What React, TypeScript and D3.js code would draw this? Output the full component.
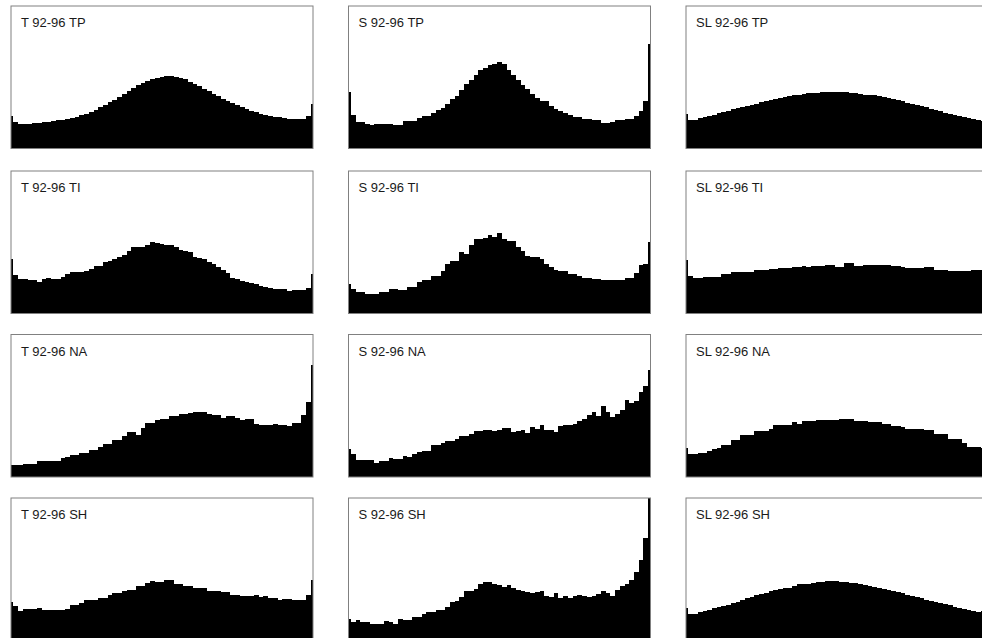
import React, { useRef, useEffect } from "react";
import * as d3 from "d3";

// panel labels
const series = ["T", "S", "SL"];
const regions = ["TP", "TI", "NA", "SH"];
const period = "92-96";

// bin heights, in % of the panel height (65 bins, end bins half shown)
const tTP = [23, 18.5, 17.5, 17.3, 17.5, 18, 18, 18.4, 18.6, 19, 19.8, 20.3, 21, 21.6, 22.3, 23.5, 24.5, 25.5, 27.3, 29, 30.5, 32.5, 34, 36, 38, 40.5, 42.5, 44.5, 46, 47.5, 48.7, 49.7, 50.3, 50.8, 50.8, 50.3, 49.5, 48.5, 47, 45.5, 44, 42, 40.5, 38.5, 36.8, 35, 33.5, 32, 30.5, 29, 27.8, 26.5, 25.5, 24.5, 23.5, 23, 22.3, 21.8, 21.3, 21, 20.7, 20.7, 21, 22.6, 31.5];
const sTP = [40, 23.8, 18.4, 18.4, 17.5, 16.3, 17.2, 17.2, 17.4, 17.2, 16.8, 16.8, 19, 19.2, 19.5, 21.4, 22.6, 22.8, 25, 27.3, 28.4, 31.5, 34.7, 36.6, 41.3, 45.5, 48.3, 51.7, 54.8, 56.4, 58.7, 59.4, 60.6, 59.4, 55.2, 51.7, 48.3, 44.8, 41.7, 38.2, 35.4, 33.1, 33.1, 29.6, 27.7, 26.6, 25, 23.3, 22.1, 22.1, 21, 21, 19.8, 19.8, 18, 18, 18.6, 19.8, 19.8, 20.7, 20.7, 22.6, 26.1, 33.1, 73.2];
const slTP = [24.5, 19.8, 20.2, 21.2, 22, 22.8, 23.8, 24.6, 25.5, 26.5, 27.4, 28.2, 29.2, 30, 30.8, 31.5, 32.5, 33.3, 34, 34.8, 35.5, 36.2, 36.8, 37.3, 37.8, 38.2, 38.6, 38.8, 39.2, 39.4, 39.6, 39.7, 39.7, 39.5, 39.3, 39, 38.6, 38.2, 37.8, 37.5, 37.8, 36.6, 35.8, 35.2, 34.6, 33.8, 33, 32.2, 31.3, 30.5, 29.6, 28.8, 27.8, 27, 26.2, 25.2, 24.4, 23.5, 22.8, 22, 21.2, 20.5, 19.8, 19.2, 19];

const tTI = [38.2, 27.1, 24.5, 24.5, 23.6, 23.6, 22.4, 24, 25.2, 24, 24.5, 25.7, 27.6, 29.2, 29.2, 28.8, 29.5, 31.1, 33.5, 33.5, 35.8, 36.5, 38.2, 40, 41, 44.1, 46.5, 46.5, 46.8, 48.3, 50.5, 49.5, 48.8, 48.1, 48.1, 46.9, 44.5, 44.1, 42.9, 39.4, 39, 38.2, 35.8, 34.5, 32.8, 30.4, 28.5, 25, 24, 22.8, 22.4, 21.5, 21, 19.3, 18.5, 18.2, 17, 17, 17, 15.8, 16.3, 16.3, 16.3, 18.2, 27.6];
const sTI = [21, 17, 15.3, 15.3, 14, 13.9, 13.9, 15.1, 15.1, 17, 17, 16.3, 16.3, 18.6, 18.6, 22.4, 23.3, 23.3, 26.4, 26.4, 30, 34.7, 37, 37, 42.9, 41.7, 48.3, 52.4, 52.4, 53.1, 55.4, 54, 56.4, 52.4, 50.7, 50.7, 46.9, 44.1, 40.6, 39.4, 39.4, 38.2, 34.7, 32.8, 30.4, 29.5, 29.5, 27.6, 27.6, 26.4, 24.8, 24.8, 24, 24, 23.6, 23.6, 23.6, 23.3, 23.3, 25.2, 25.2, 28.1, 34.2, 34.7, 50.5];
const slTI = [37.5, 26.4, 25.2, 25.2, 25.7, 25.7, 25.7, 25.7, 27.6, 27.6, 28.8, 28.8, 29.2, 29.2, 29.2, 30.4, 30.4, 30.4, 31.1, 31.1, 31.6, 31.6, 31.6, 32.8, 32.8, 33, 32.5, 33, 33.5, 33.5, 34, 34, 32.8, 32.8, 35.1, 35.1, 33.5, 33.5, 33.8, 34.2, 34.2, 34.2, 34, 34, 33, 33, 32.5, 32, 31.8, 31.8, 31.8, 32.3, 32.3, 30.7, 30.7, 30.7, 30, 30, 30, 29.5, 29.5, 30.4, 30.4, 30.4, 30.4];

const tNA = [8.6, 8.6, 8.6, 8.8, 9.2, 9.3, 11, 11, 11, 11.2, 11.5, 13.6, 13.8, 15.2, 15.2, 16.8, 16.8, 18.7, 18.7, 21, 23.4, 23.4, 25.7, 25.7, 28.5, 31.5, 31.5, 29.2, 34.6, 37.9, 37.9, 39.7, 40.9, 40.9, 42.5, 42.5, 43.9, 43.9, 44.9, 45.6, 45.6, 45.6, 44.4, 43.2, 43.2, 41.6, 42.5, 42.5, 41.6, 39.7, 40.9, 40.9, 37.4, 36.2, 36.2, 36.2, 37.4, 36.2, 36.2, 35.5, 37.9, 37.9, 43.7, 52.6, 78.7];
const sNA = [19.9, 16.4, 11.7, 11.7, 12.1, 11.7, 10, 11.2, 11.2, 13.6, 12.9, 12.9, 14.5, 14, 16.4, 17.5, 18.2, 18.2, 22.2, 22.2, 23.8, 25.2, 25.2, 26.9, 28.5, 28.5, 30.4, 32, 32, 32.7, 33.2, 32.2, 33.2, 34.3, 34.3, 31.5, 32.2, 32.7, 30.8, 35, 33.9, 36.2, 33.2, 32.7, 31.5, 35.5, 36.2, 36.2, 37.4, 39.3, 40.9, 43.2, 45.6, 42.5, 49.5, 45.6, 42.1, 43.9, 47.2, 53.7, 51.9, 53.3, 59.6, 63.6, 75.2];
const slNA = [20.6, 16.4, 16.4, 16.8, 16.8, 18, 19.5, 20.3, 22.7, 22.7, 25.7, 25.7, 29.2, 29.2, 29.2, 32.2, 32.2, 32.2, 33.9, 36.2, 36.2, 36.2, 36.2, 38.6, 37.4, 39.3, 39.3, 39.3, 40.2, 40.2, 40.2, 40.2, 39.7, 40.9, 40.9, 40.9, 39.3, 39.3, 39.3, 38.6, 38.6, 38.6, 36.9, 36.9, 35.5, 35.5, 35, 33.9, 33.9, 33.9, 33.9, 32.7, 32.7, 29.9, 29.9, 29.9, 26.9, 26.9, 26.9, 23.8, 21, 21, 21, 20.5, 20];

const tSH = [27.1, 24.1, 21, 22.2, 22.2, 22.2, 22.9, 21.7, 21.7, 21.7, 21.7, 21.7, 22.2, 25.2, 25.2, 26.4, 28.3, 28.3, 28.3, 29.9, 29.9, 32.2, 33.4, 33.4, 35, 35.7, 35.7, 38.1, 38.1, 40.4, 41.6, 40.9, 40.9, 42.8, 42.8, 40, 40, 38.1, 38.1, 36.9, 36.9, 36.9, 35, 35, 35, 33.9, 33.9, 32.2, 32.2, 31.5, 31.5, 31.5, 32.2, 30.6, 31.1, 29.9, 29.9, 28.3, 29.2, 29.2, 28.3, 28.3, 28.3, 32.2, 42.8];
const sSH = [15.2, 12.9, 14.3, 12.9, 12.9, 11.7, 11.9, 11.9, 13.6, 12.9, 11.9, 15.2, 14.7, 14.7, 16.6, 16.6, 18.9, 19.9, 19.9, 21.7, 21.7, 23.6, 26.9, 27.6, 30.6, 34.6, 34.6, 36.2, 40, 40.9, 40.9, 39.3, 38.6, 37.6, 38.6, 36.9, 35.3, 34.6, 33.9, 33.4, 33.9, 34.6, 31.1, 30.6, 33.4, 29.9, 31.1, 29.9, 31.5, 32.2, 31.5, 30.6, 31.5, 32.9, 34.6, 33.4, 31.1, 35.7, 38.1, 39.3, 42.8, 47.9, 56.8, 72, 100];
const slSH = [22.9, 18.9, 18.9, 19.9, 21, 21.7, 22.5, 23.3, 24.1, 25.2, 26.2, 26.9, 28.3, 29.5, 30.6, 31.6, 32.6, 33.4, 34.4, 35.3, 36, 36.6, 36.9, 38.5, 39.3, 40, 40, 40.2, 40.9, 41.1, 41.6, 41.6, 41.6, 41.2, 40.9, 40.5, 40.2, 39.7, 38.9, 38.3, 37.7, 37, 36.3, 35.7, 34.8, 33.8, 33, 32.2, 31.2, 30.3, 29.5, 28.6, 27.8, 27, 26.2, 25.3, 24.6, 23.8, 22.8, 22, 21.4, 20.5, 20, 20.5, 21];

const panels = [
  [tTP, sTP, slTP],
  [tTI, sTI, slTI],
  [tNA, sNA, slNA],
  [tSH, sSH, slSH],
];

const width = 982;
const height = 638;
const boxW = 302;
const boxH = 142.5;
const colX = [11, 348.5, 686];
const rowY = [6, 171, 334.5, 498];

function App() {
  const svgRef = useRef<SVGSVGElement>(null);

  useEffect(() => {
    if (!svgRef.current) return;
    const svg = d3.select(svgRef.current);
    svg.selectAll("*").remove();

    regions.forEach((reg, r) => {
      series.forEach((ser, c) => {
        const values = panels[r][c];
        const g = svg
          .append("g")
          .attr("transform", `translate(${colX[c]},${rowY[r]})`);

        // bin centres sit on 0..W, so the first and last bars are cut in half
        const x = d3.scaleLinear().domain([0, values.length - 1]).range([0, boxW]);
        const y = d3.scaleLinear().domain([0, 100]).range([boxH, 0]);
        const bw = x(1) - x(0);

        const clipId = `clip-${r}-${c}`;
        g.append("clipPath")
          .attr("id", clipId)
          .append("rect")
          .attr("width", boxW)
          .attr("height", boxH);

        g.append("g")
          .attr("clip-path", `url(#${clipId})`)
          .selectAll("rect")
          .data(values)
          .join("rect")
          .attr("x", (d, i) => x(i) - bw / 2)
          .attr("y", (d) => y(d))
          .attr("width", bw)
          .attr("height", (d) => boxH - y(d))
          .attr("fill", "#000")
          .attr("shape-rendering", "crispEdges");

        g.append("rect")
          .attr("x", 0)
          .attr("y", 0)
          .attr("width", boxW)
          .attr("height", boxH)
          .attr("fill", "none")
          .attr("stroke", "#808080")
          .attr("stroke-width", 1);

        g.append("text")
          .attr("x", 10)
          .attr("y", 21)
          .attr("font-family", "'Liberation Sans', Arial, sans-serif")
          .attr("font-size", 13)
          .attr("fill", "#1a1a1a")
          .text(`${ser} ${period} ${reg}`);
      });
    });
  }, []);

  return (
    <svg
      ref={svgRef}
      width={width}
      height={height}
      style={{ position: "absolute", left: 0, top: 0, background: "#fff" }}
    ></svg>
  );
}

export default App;
